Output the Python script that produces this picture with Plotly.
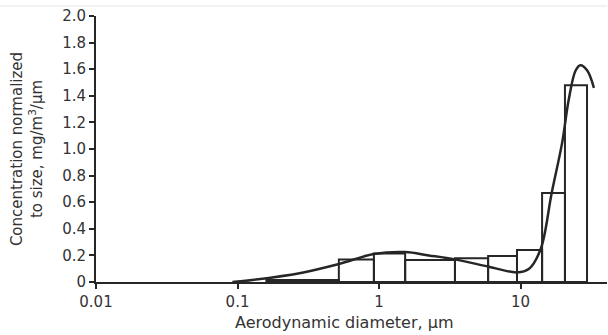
import plotly.graph_objects as go

# Bin edges (aerodynamic diameter, µm) and normalized concentrations per bin
bin_edges = [0.16, 0.52, 0.92, 1.53, 3.44, 5.9, 9.44, 14.2, 20.6, 29.5]
bin_values = [0.015, 0.17, 0.215, 0.165, 0.178, 0.195, 0.24, 0.67, 1.48]

# Smoothed fit curve
curve_d = [0.092, 0.127, 0.286, 0.52, 0.92, 1.53, 2.25, 3.44, 5.98, 9.44,
           11.5, 13.9, 16.6, 19.7, 21.9, 24.5, 26.5, 29.6, 33.0]
curve_v = [0.0, 0.015, 0.07, 0.135, 0.21, 0.225, 0.2, 0.17, 0.115, 0.072,
           0.1, 0.25, 0.67, 1.05, 1.37, 1.59, 1.63, 1.59, 1.46]

x_ticks = [0.01, 0.1, 1, 10]
x_ticktext = ["0.01", "0.1", "1", "10"]
y_ticks = [0, 0.2, 0.4, 0.6, 0.8, 1.0, 1.2, 1.4, 1.6, 1.8, 2.0]
y_ticktext = ["0", "0.2", "0.4", "0.6", "0.8", "1.0", "1.2", "1.4", "1.6", "1.8", "2.0"]

INK = "#262626"
FONT = "DejaVu Sans"
L, R, T, B = 96, 1, 16, 53
PW, PH = 608 - L - R, 335 - T - B

# build bar outlines from edges/values
bx, by = [], []
for i, h in enumerate(bin_values):
    l, r = bin_edges[i], bin_edges[i + 1]
    bx += [l, l, r, r, l, None]
    by += [0, h, h, 0, 0, None]

fig = go.Figure()
fig.add_trace(go.Scatter(x=bx, y=by, mode="lines", fill="toself",
                         fillcolor="white", line=dict(color=INK, width=2),
                         hoverinfo="skip", showlegend=False))
fig.add_trace(go.Scatter(x=curve_d, y=curve_v, mode="lines",
                         line=dict(color=INK, width=2.5, shape="spline", smoothing=1.0),
                         showlegend=False))

fig.update_layout(
    width=608, height=335,
    margin=dict(l=L, r=R, t=T, b=B),
    paper_bgcolor="white", plot_bgcolor="white",
    font=dict(family=FONT, size=15, color="#333333"),
    xaxis=dict(type="log", range=[-2, 1.611], tickvals=x_ticks, ticktext=x_ticktext,
               showgrid=False, zeroline=False, showline=True, linecolor=INK, linewidth=2,
               ticks="outside", ticklen=5, tickwidth=2, tickcolor=INK, automargin=False),
    yaxis=dict(range=[0, 2.0], tickvals=y_ticks, ticktext=y_ticktext,
               showgrid=False, zeroline=False, showline=True, linecolor=INK, linewidth=2,
               ticks="outside", ticklen=5, tickwidth=2, tickcolor=INK, automargin=False,
               title=dict(text="Concentration normalized<br>to size, mg/m<sup>3</sup>/µm",
                          font=dict(size=15), standoff=16)),
    annotations=[dict(text="Aerodynamic diameter, µm", xref="paper", yref="paper",
                      x=(344 - L) / PW, y=-52 / PH,
                      xanchor="center", yanchor="bottom", showarrow=False,
                      font=dict(size=16, family=FONT, color="#333333"))],
    shapes=[dict(type="line", xref="paper", yref="paper", x0=-L / PW, x1=1,
                 y0=1 + 10 / PH, y1=1 + 10 / PH, line=dict(color="#e6e6e6", width=1))],
)

fig.write_html("out.html", config={"displayModeBar": False},
               post_script="document.body.style.margin='0';document.body.style.overflow='hidden';")
